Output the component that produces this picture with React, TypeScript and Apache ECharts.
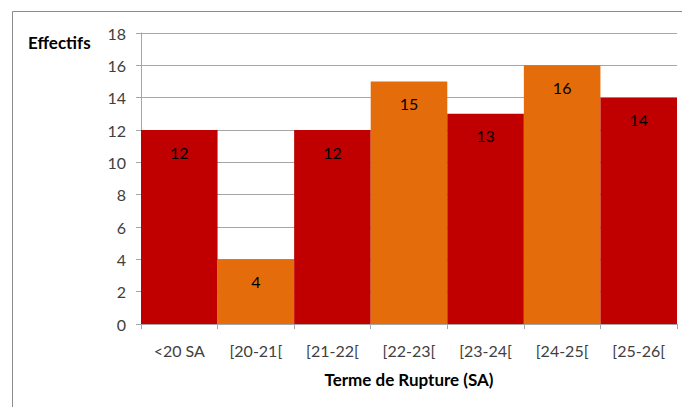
import React, { useEffect, useRef } from "react";
import * as echarts from "echarts";

const categories = ["<20 SA", "[20-21[", "[21-22[", "[22-23[", "[23-24[", "[24-25[", "[25-26["];
const values = [12, 4, 12, 15, 13, 16, 14];
const barColors = ["#C00000", "#E46C0A"];
const yTicks = { min: 0, max: 18, interval: 2 };
const yTitle = "Effectifs";
const xTitle = "Terme de Rupture (SA)";

const FONT = "Lato";

export default function App() {
  const ref = useRef<HTMLDivElement>(null);
  useEffect(() => {
    if (!ref.current) return;
    const chart = echarts.init(ref.current, undefined, { renderer: "svg" });
    chart.setOption({
      animation: false,
      backgroundColor: "#ffffff",
      textStyle: { fontFamily: FONT },
      grid: { left: 141, right: 5, top: 33, bottom: 83, containLabel: false },
      xAxis: {
        type: "category",
        data: categories,
        axisLine: { show: true, lineStyle: { color: "#A6A6A6", width: 1 } },
        axisTick: { show: true, length: 5, lineStyle: { color: "#A6A6A6" } },
        axisLabel: { color: "#404040", fontSize: 16, fontFamily: FONT, margin: 18 },
        name: xTitle,
        nameLocation: "middle",
        nameGap: 47,
        nameTextStyle: { color: "#000", fontSize: 17, fontWeight: "bold", fontFamily: FONT },
      },
      yAxis: {
        type: "value",
        min: yTicks.min,
        max: yTicks.max,
        interval: yTicks.interval,
        axisLine: { show: true, lineStyle: { color: "#A6A6A6", width: 1 } },
        axisTick: { show: true, length: 5, lineStyle: { color: "#A6A6A6" } },
        axisLabel: { color: "#404040", fontSize: 16, fontFamily: FONT, margin: 15 },
        splitLine: { show: true, lineStyle: { color: "#A6A6A6", width: 1 } },
      },
      series: [
        {
          type: "bar",
          data: values.map((v, i) => ({ value: v, itemStyle: { color: barColors[i % 2] } })),
          barWidth: "100%",
          barCategoryGap: "0%",
          label: {
            show: true,
            position: "insideTop",
            distance: 14,
            color: "#000",
            fontSize: 16,
            fontFamily: FONT,
          },
        },
      ],
      graphic: [
        {
          type: "rect",
          shape: { x: 12.5, y: 11.5, width: 800, height: 500 },
          style: { fill: "none", stroke: "#8C8C8C", lineWidth: 1 },
          silent: true,
          z: 100,
        },
        {
          type: "text",
          x: 28,
          y: 42,
          style: {
            text: yTitle,
            fill: "#000",
            font: `bold 17px ${FONT}`,
            verticalAlign: "middle",
          },
        },
      ],
    });
    return () => chart.dispose();
  }, []);
  return (
    <div
      ref={ref}
      style={{ position: "fixed", left: 0, top: 0, width: 682, height: 407 }}
    />
  );
}
